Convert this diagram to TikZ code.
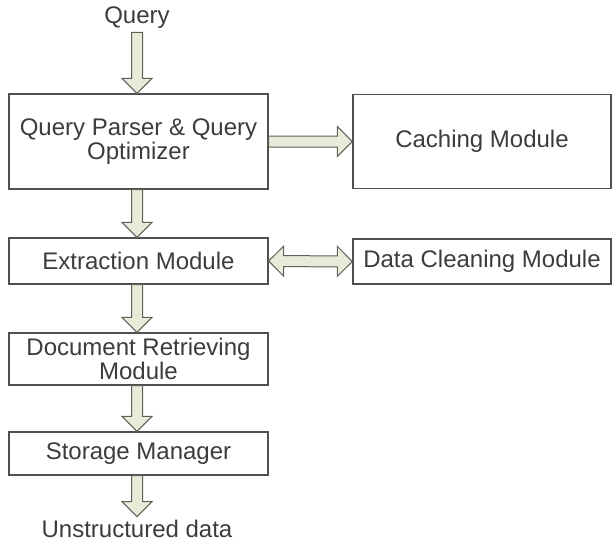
\documentclass[tikz,border=0pt]{standalone}
\usepackage{fontspec}
\setmainfont{Liberation Sans}
\usetikzlibrary{calc}
\definecolor{boxline}{RGB}{80,80,80}
\definecolor{arrowline}{RGB}{95,95,90}
\definecolor{arrowfill}{RGB}{232,235,216}
\definecolor{textgray}{RGB}{60,60,60}
\newcommand{\fatshaft}{5.5pt}
\newcommand{\fathead}{15pt}
\newcommand{\fatlen}{15pt}
\tikzset{
  box/.style={draw=boxline, line width=1.3pt, inner sep=0pt, align=center,
    text=textgray, font=\fontsize{24}{21.5}\selectfont},
  caption/.style={text=textgray, font=\fontsize{24}{21.5}\selectfont},
  fat arrow/.style={draw=arrowline, fill=arrowfill, line width=1pt, line join=miter,
    to path={
      ($(\tikztotarget)!\fatlen!(\tikztostart)$) coordinate (tipbase)
      ($(\tikztostart)!\fatshaft!90:(\tikztotarget)$)
      -- ($(tipbase)!\fatshaft!90:(\tikztotarget)$)
      -- ($(tipbase)!\fathead!90:(\tikztotarget)$)
      -- (\tikztotarget)
      -- ($(tipbase)!\fathead!-90:(\tikztotarget)$)
      -- ($(tipbase)!\fatshaft!-90:(\tikztotarget)$)
      -- ($(\tikztostart)!\fatshaft!-90:(\tikztotarget)$) -- cycle}},
  fat double arrow/.style={draw=arrowline, fill=arrowfill, line width=1pt, line join=miter,
    to path={
      ($(\tikztostart)!\fatlen!(\tikztotarget)$) coordinate (basea)
      ($(\tikztotarget)!\fatlen!(\tikztostart)$) coordinate (baseb)
      (\tikztostart)
      -- ($(basea)!\fathead!90:(\tikztotarget)$)
      -- ($(basea)!\fatshaft!90:(\tikztotarget)$)
      -- ($(baseb)!\fatshaft!90:(\tikztotarget)$)
      -- ($(baseb)!\fathead!90:(\tikztotarget)$)
      -- (\tikztotarget)
      -- ($(baseb)!\fathead!-90:(\tikztotarget)$)
      -- ($(baseb)!\fatshaft!-90:(\tikztotarget)$)
      -- ($(basea)!\fatshaft!-90:(\tikztotarget)$)
      -- ($(basea)!\fathead!-90:(\tikztotarget)$) -- cycle}}
}

\begin{document}
\begin{tikzpicture}[x=1pt, y=1pt]
\useasboundingbox (0,0) rectangle (613,-546);
\node [caption] (query) at (137,-18) {Query};
\node [box, minimum width=259pt, minimum height=95pt] (parser) at (138.5,-141.5) {Query Parser \& Query\\Optimizer};
\node [box, minimum width=258pt, minimum height=94pt] (cache) at (482,-141.5) {Caching Module};
\node [box, minimum width=259pt, minimum height=46pt] (extract) at (138.5,-261) {Extraction Module};
\node [box, minimum width=258pt, minimum height=45pt] (clean) at (482,-261.5) {Data Cleaning Module};
\node [box, minimum width=259pt, minimum height=52pt] (retrieve) at (138.5,-359) {Document Retrieving\\Module};
\node [box, minimum width=259pt, minimum height=43pt] (storage) at (138.5,-453.5) {Storage Manager};
\node [caption] (unstructured) at (137,-529) {Unstructured data};
\draw [fat arrow] (query.south) to (query.south |- parser.north);
\draw [fat arrow] (query.south |- parser.south) to (query.south |- extract.north);
\draw [fat arrow] (query.south |- extract.south) to (query.south |- retrieve.north);
\draw [fat arrow] (query.south |- retrieve.south) to (query.south |- storage.north);
\draw [fat arrow] (query.south |- storage.south) to (unstructured.north);
\draw [fat arrow] (parser.east) to (cache.west);
\draw [fat double arrow] (extract.east) to (clean.west);
\end{tikzpicture}
\end{document}
